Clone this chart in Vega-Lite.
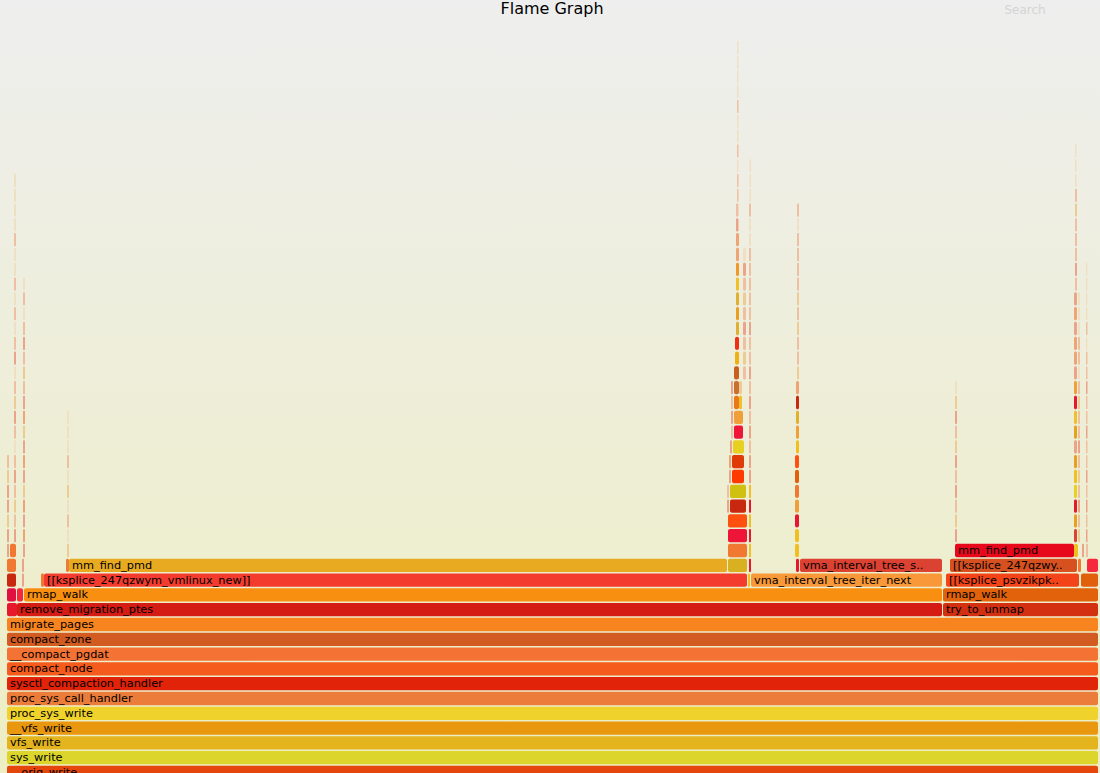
{
  "$schema": "https://vega.github.io/schema/vega-lite/v6.json",
  "width": 1100,
  "height": 773,
  "autosize": {"type": "fit", "contains": "padding"},
  "padding": 0,
  "background": "#eeeeee",
  "config": {"view": {"stroke": null}},
  "datasets": {
    "frames": [
      {"d":0,"a":7,"b":1098,"c":"a0","t":"__orig_write"},
      {"d":1,"a":7,"b":1098,"c":"a1","t":"sys_write"},
      {"d":2,"a":7,"b":1098,"c":"a2","t":"vfs_write"},
      {"d":3,"a":7,"b":1098,"c":"a3","t":"__vfs_write"},
      {"d":4,"a":7,"b":1098,"c":"a4","t":"proc_sys_write"},
      {"d":5,"a":7,"b":1098,"c":"a5","t":"proc_sys_call_handler"},
      {"d":6,"a":7,"b":1098,"c":"a6","t":"sysctl_compaction_handler"},
      {"d":7,"a":7,"b":1098,"c":"a7","t":"compact_node"},
      {"d":8,"a":7,"b":1098,"c":"a8","t":"__compact_pgdat"},
      {"d":9,"a":7,"b":1098,"c":"a9","t":"compact_zone"},
      {"d":10,"a":7,"b":1098,"c":"a10","t":"migrate_pages"},
      {"d":11,"a":7,"b":17,"c":"a32"},
      {"d":11,"a":17,"b":942,"c":"a11","t":"remove_migration_ptes"},
      {"d":11,"a":943,"b":1098,"c":"a12","t":"try_to_unmap"},
      {"d":12,"a":7,"b":16,"c":"a34"},
      {"d":12,"a":17,"b":23,"c":"a35"},
      {"d":12,"a":24,"b":942,"c":"a13","t":"rmap_walk"},
      {"d":12,"a":943,"b":1098,"c":"a14","t":"rmap_walk"},
      {"d":13,"a":7,"b":16,"c":"a26"},
      {"d":13,"a":22,"b":24,"c":"q3"},
      {"d":13,"a":41,"b":44,"c":"a23"},
      {"d":13,"a":44,"b":747,"c":"a15","t":"[[ksplice_247qzwym_vmlinux_new]]"},
      {"d":13,"a":748,"b":750,"c":"a31"},
      {"d":13,"a":751,"b":942,"c":"a16","t":"vma_interval_tree_iter_next"},
      {"d":13,"a":946,"b":1079,"c":"a17","t":"[[ksplice_psvzikpk.."},
      {"d":13,"a":1081,"b":1098,"c":"a33"},
      {"d":14,"a":7,"b":16,"c":"a23"},
      {"d":14,"a":22,"b":24,"c":"q3"},
      {"d":14,"a":66,"b":69,"c":"a5"},
      {"d":14,"a":69,"b":727,"c":"a18","t":"mm_find_pmd"},
      {"d":14,"a":728,"b":747,"c":"a22"},
      {"d":14,"a":749,"b":751,"c":"a32"},
      {"d":14,"a":796,"b":799,"c":"a32"},
      {"d":14,"a":800,"b":942,"c":"a19","t":"vma_interval_tree_s.."},
      {"d":14,"a":950,"b":1077,"c":"a20","t":"[[ksplice_247qzwy.."},
      {"d":14,"a":1078,"b":1081,"c":"a23"},
      {"d":14,"a":1087,"b":1098,"c":"a35"},
      {"d":15,"a":7,"b":9,"c":"q3"},
      {"d":15,"a":10,"b":16,"c":"a23"},
      {"d":15,"a":23,"b":25,"c":"q3"},
      {"d":15,"a":67,"b":69,"c":"q2"},
      {"d":15,"a":728,"b":747,"c":"a23"},
      {"d":15,"a":749,"b":751,"c":"a31"},
      {"d":15,"a":795,"b":799,"c":"a31"},
      {"d":15,"a":955,"b":1074,"c":"a21","t":"mm_find_pmd"},
      {"d":15,"a":1074,"b":1078,"c":"a31"},
      {"d":15,"a":1082,"b":1084,"c":"q3"},
      {"d":15,"a":1086,"b":1088,"c":"q1"},

      {"d":16,"a":728,"b":747,"c":"a24"},
      {"d":17,"a":728,"b":747,"c":"a25"},
      {"d":18,"a":730,"b":746,"c":"a26"},
      {"d":19,"a":730,"b":746,"c":"a27"},
      {"d":20,"a":732,"b":744,"c":"a28"},
      {"d":21,"a":732,"b":744,"c":"a36"},
      {"d":22,"a":733,"b":744,"c":"a29"},
      {"d":23,"a":734,"b":743,"c":"a24"},
      {"d":24,"a":734,"b":743,"c":"a30"},
      {"d":25,"a":734,"b":739,"c":"a37"},
      {"d":25,"a":739,"b":742,"c":"a44"},
      {"d":26,"a":734,"b":739,"c":"a38"},
      {"d":26,"a":739,"b":742,"c":"q2"},
      {"d":27,"a":734,"b":739,"c":"a39"},
      {"d":28,"a":735,"b":739,"c":"a40"},
      {"d":29,"a":735,"b":739,"c":"a41"},
      {"d":30,"a":736,"b":739,"c":"a42"},
      {"d":31,"a":736,"b":739,"c":"a43"},
      {"d":32,"a":736,"b":739,"c":"a42"},
      {"d":33,"a":736,"b":739,"c":"a44"},
      {"d":34,"a":736,"b":739,"c":"a45"},
      {"d":35,"a":736,"b":739,"c":"q5"},
      {"d":36,"a":736,"b":739,"c":"q5"},
      {"d":37,"a":736,"b":738.5,"c":"q3"},
      {"d":38,"a":736,"b":738.5,"c":"q1"},
      {"d":39,"a":737,"b":738.5,"c":"q1"},
      {"d":40,"a":737,"b":738.5,"c":"q1"},
      {"d":41,"a":737,"b":738.5,"c":"q4"},
      {"d":42,"a":737,"b":738.5,"c":"q1"},
      {"d":43,"a":737,"b":738.5,"c":"q4"},
      {"d":44,"a":737,"b":738.5,"c":"q4"},
      {"d":45,"a":737,"b":738.5,"c":"q1"},
      {"d":46,"a":737,"b":738.5,"c":"q4"},
      {"d":47,"a":737,"b":738.5,"c":"q4"},
      {"d":48,"a":737,"b":738.5,"c":"q4"},
      {"d":49,"a":737,"b":738.5,"c":"q4"},

      {"d":27,"a":743,"b":746,"c":"q1"},
      {"d":28,"a":743,"b":746,"c":"q2"},
      {"d":29,"a":743,"b":746,"c":"q1"},
      {"d":30,"a":743,"b":746,"c":"q3"},
      {"d":31,"a":743,"b":746,"c":"q1"},
      {"d":32,"a":743,"b":746,"c":"q2"},
      {"d":33,"a":743,"b":746,"c":"q1"},
      {"d":34,"a":743,"b":746,"c":"q3"},
      {"d":35,"a":743,"b":746,"c":"q4"},

      {"d":18,"a":727,"b":729,"c":"q3"},
      {"d":19,"a":727,"b":729,"c":"q1"},
      {"d":20,"a":729,"b":731,"c":"q3"},
      {"d":21,"a":729,"b":731,"c":"q5"},
      {"d":22,"a":730,"b":732,"c":"q3"},
      {"d":23,"a":731,"b":733,"c":"q1"},
      {"d":24,"a":731,"b":733,"c":"q3"},
      {"d":25,"a":731,"b":733,"c":"q1"},
      {"d":26,"a":731,"b":733,"c":"q3"},

      {"d":16,"a":749,"b":751,"c":"a32"},
      {"d":17,"a":749,"b":751,"c":"a31"},
      {"d":18,"a":749,"b":751,"c":"a32"},
      {"d":19,"a":749,"b":751,"c":"a31"},
      {"d":20,"a":749,"b":751,"c":"q3"},
      {"d":21,"a":749,"b":751,"c":"q3"},
      {"d":22,"a":749,"b":751,"c":"q1"},
      {"d":23,"a":749,"b":751,"c":"q3"},
      {"d":24,"a":749,"b":751,"c":"q1"},
      {"d":25,"a":749,"b":751,"c":"q3"},
      {"d":26,"a":749,"b":751,"c":"q1"},
      {"d":27,"a":749,"b":751,"c":"q3"},
      {"d":28,"a":749,"b":751,"c":"q1"},
      {"d":29,"a":749,"b":751,"c":"q1"},
      {"d":30,"a":749,"b":751,"c":"q3"},
      {"d":31,"a":749,"b":751,"c":"q1"},
      {"d":32,"a":749,"b":751,"c":"q1"},
      {"d":33,"a":749,"b":751,"c":"q1"},
      {"d":34,"a":749,"b":751,"c":"q1"},
      {"d":35,"a":749,"b":751,"c":"q1"},
      {"d":36,"a":749,"b":751,"c":"q4"},
      {"d":37,"a":749,"b":751,"c":"q4"},
      {"d":38,"a":749,"b":751,"c":"q1"},
      {"d":39,"a":749.5,"b":751,"c":"q4"},
      {"d":40,"a":749.5,"b":751,"c":"q4"},
      {"d":41,"a":749.5,"b":751,"c":"q4"},

      {"d":16,"a":795,"b":799,"c":"a31"},
      {"d":17,"a":795,"b":799,"c":"a32"},
      {"d":18,"a":795,"b":799,"c":"a30"},
      {"d":19,"a":795,"b":799,"c":"a23"},
      {"d":20,"a":795,"b":799,"c":"a33"},
      {"d":21,"a":795,"b":799,"c":"a25"},
      {"d":22,"a":796,"b":799,"c":"a31"},
      {"d":23,"a":796,"b":799,"c":"a30"},
      {"d":24,"a":796,"b":799,"c":"a42"},
      {"d":25,"a":796,"b":799,"c":"a26"},
      {"d":26,"a":796,"b":799,"c":"q5"},
      {"d":27,"a":797,"b":799,"c":"q2"},
      {"d":28,"a":797,"b":799,"c":"q1"},
      {"d":29,"a":797,"b":799,"c":"q1"},
      {"d":30,"a":797,"b":799,"c":"q2"},
      {"d":31,"a":797,"b":799,"c":"q1"},
      {"d":32,"a":797,"b":799,"c":"q2"},
      {"d":33,"a":797,"b":799,"c":"q1"},
      {"d":34,"a":797,"b":799,"c":"q1"},
      {"d":35,"a":797,"b":799,"c":"q1"},
      {"d":36,"a":797,"b":799,"c":"q1"},
      {"d":37,"a":797,"b":799,"c":"q4"},
      {"d":38,"a":797,"b":799,"c":"q1"},

      {"d":16,"a":955,"b":957,"c":"q3"},
      {"d":17,"a":955,"b":957,"c":"q2"},
      {"d":18,"a":955,"b":957,"c":"q1"},
      {"d":19,"a":955,"b":957,"c":"q3"},
      {"d":20,"a":955,"b":957,"c":"q1"},
      {"d":21,"a":955,"b":957,"c":"q3"},
      {"d":22,"a":955,"b":957,"c":"q2"},
      {"d":23,"a":955,"b":957,"c":"q1"},
      {"d":24,"a":955,"b":957,"c":"q3"},
      {"d":25,"a":955,"b":957,"c":"q2"},
      {"d":26,"a":955,"b":957,"c":"q4"},

      {"d":16,"a":1074,"b":1077,"c":"a19"},
      {"d":17,"a":1074,"b":1077,"c":"a43"},
      {"d":18,"a":1074,"b":1077,"c":"a32"},
      {"d":19,"a":1074,"b":1077,"c":"a29"},
      {"d":20,"a":1074,"b":1077,"c":"a31"},
      {"d":21,"a":1074,"b":1077,"c":"a43"},
      {"d":22,"a":1074,"b":1077,"c":"q3"},
      {"d":23,"a":1074,"b":1077,"c":"a43"},
      {"d":24,"a":1074,"b":1077,"c":"a44"},
      {"d":25,"a":1074,"b":1077,"c":"a32"},
      {"d":26,"a":1074,"b":1077,"c":"a30"},
      {"d":27,"a":1074,"b":1077,"c":"q3"},
      {"d":28,"a":1074,"b":1077,"c":"q5"},
      {"d":29,"a":1074,"b":1077,"c":"q5"},
      {"d":30,"a":1074,"b":1077,"c":"q3"},
      {"d":31,"a":1074,"b":1077,"c":"q5"},
      {"d":32,"a":1074,"b":1077,"c":"q3"},
      {"d":33,"a":1075,"b":1077,"c":"q1"},
      {"d":34,"a":1075,"b":1077,"c":"q3"},
      {"d":35,"a":1075,"b":1077,"c":"q1"},
      {"d":36,"a":1075,"b":1077,"c":"q1"},
      {"d":37,"a":1075,"b":1077,"c":"q1"},
      {"d":38,"a":1075,"b":1077,"c":"q2"},
      {"d":39,"a":1075,"b":1077,"c":"q1"},
      {"d":40,"a":1075,"b":1076.5,"c":"q4"},
      {"d":41,"a":1075,"b":1076.5,"c":"q4"},
      {"d":42,"a":1075,"b":1076.5,"c":"q4"},

      {"d":16,"a":1078,"b":1080,"c":"q2"},
      {"d":17,"a":1078,"b":1080,"c":"q1"},
      {"d":18,"a":1078,"b":1080,"c":"q3"},
      {"d":19,"a":1078,"b":1080,"c":"q1"},
      {"d":20,"a":1078,"b":1080,"c":"q2"},
      {"d":21,"a":1078,"b":1080,"c":"q1"},
      {"d":22,"a":1078,"b":1080,"c":"q3"},
      {"d":23,"a":1078,"b":1080,"c":"q1"},
      {"d":24,"a":1078,"b":1080,"c":"q1"},
      {"d":25,"a":1078,"b":1080,"c":"q2"},
      {"d":26,"a":1078,"b":1080,"c":"q1"},
      {"d":27,"a":1078,"b":1080,"c":"q4"},
      {"d":28,"a":1078,"b":1080,"c":"q1"},
      {"d":29,"a":1078,"b":1080,"c":"q1"},
      {"d":30,"a":1078,"b":1080,"c":"q4"},
      {"d":31,"a":1078,"b":1080,"c":"q4"},
      {"d":32,"a":1078,"b":1080,"c":"q4"},

      {"d":16,"a":1086,"b":1087.5,"c":"q3"},
      {"d":17,"a":1086,"b":1087.5,"c":"q1"},
      {"d":18,"a":1086,"b":1087.5,"c":"q3"},
      {"d":19,"a":1086,"b":1087.5,"c":"q1"},
      {"d":20,"a":1086,"b":1087.5,"c":"q3"},
      {"d":21,"a":1086,"b":1087.5,"c":"q1"},
      {"d":22,"a":1086,"b":1087.5,"c":"q1"},
      {"d":23,"a":1086,"b":1087.5,"c":"q3"},
      {"d":24,"a":1086,"b":1087.5,"c":"q1"},
      {"d":25,"a":1086,"b":1087.5,"c":"q1"},
      {"d":26,"a":1086,"b":1087.5,"c":"q3"},
      {"d":27,"a":1086,"b":1087.5,"c":"q1"},
      {"d":28,"a":1086,"b":1087.5,"c":"q1"},
      {"d":29,"a":1086,"b":1087.5,"c":"q4"},
      {"d":30,"a":1086,"b":1087.5,"c":"q1"},
      {"d":31,"a":1086,"b":1087.5,"c":"q4"},
      {"d":32,"a":1086,"b":1087.5,"c":"q4"},
      {"d":33,"a":1086,"b":1087.5,"c":"q4"},
      {"d":34,"a":1086,"b":1087.5,"c":"q4"},

      {"d":16,"a":7,"b":9,"c":"q3"},
      {"d":17,"a":7,"b":9,"c":"q2"},
      {"d":18,"a":7,"b":9,"c":"q3"},
      {"d":19,"a":7,"b":9,"c":"q3"},
      {"d":20,"a":7,"b":9,"c":"q2"},
      {"d":21,"a":7,"b":9,"c":"q1"},

      {"d":16,"a":14,"b":16,"c":"q3"},
      {"d":17,"a":14,"b":16,"c":"q1"},
      {"d":18,"a":14,"b":16,"c":"q2"},
      {"d":19,"a":14,"b":16,"c":"q1"},
      {"d":20,"a":14,"b":16,"c":"q3"},
      {"d":21,"a":14,"b":16,"c":"q1"},
      {"d":22,"a":14,"b":16,"c":"q4"},
      {"d":23,"a":14,"b":16,"c":"q1"},
      {"d":24,"a":14,"b":16,"c":"q3"},
      {"d":25,"a":14,"b":16,"c":"q2"},
      {"d":26,"a":14,"b":16,"c":"q1"},
      {"d":27,"a":14,"b":16,"c":"q4"},
      {"d":28,"a":14,"b":16,"c":"q3"},
      {"d":29,"a":14,"b":16,"c":"q1"},
      {"d":30,"a":14,"b":16,"c":"q4"},
      {"d":31,"a":14,"b":16,"c":"q1"},
      {"d":32,"a":14,"b":16,"c":"q4"},
      {"d":33,"a":14,"b":16,"c":"q1"},
      {"d":34,"a":14,"b":16,"c":"q4"},
      {"d":35,"a":14,"b":16,"c":"q4"},
      {"d":36,"a":14,"b":16,"c":"q1"},
      {"d":37,"a":14,"b":16,"c":"q4"},
      {"d":38,"a":14,"b":16,"c":"q4"},
      {"d":39,"a":14,"b":16,"c":"q4"},
      {"d":40,"a":14,"b":16,"c":"q4"},

      {"d":16,"a":23,"b":25,"c":"q5"},
      {"d":17,"a":23,"b":25,"c":"q3"},
      {"d":18,"a":23,"b":25,"c":"q5"},
      {"d":19,"a":23,"b":25,"c":"q2"},
      {"d":20,"a":23,"b":25,"c":"q3"},
      {"d":21,"a":23,"b":25,"c":"q5"},
      {"d":22,"a":23,"b":25,"c":"q3"},
      {"d":23,"a":23,"b":25,"c":"q2"},
      {"d":24,"a":23,"b":25,"c":"q5"},
      {"d":25,"a":23,"b":25,"c":"q3"},
      {"d":26,"a":23,"b":25,"c":"q1"},
      {"d":27,"a":23,"b":25,"c":"q2"},
      {"d":28,"a":23,"b":25,"c":"q1"},
      {"d":29,"a":23,"b":25,"c":"q3"},
      {"d":30,"a":23,"b":25,"c":"q1"},
      {"d":31,"a":23,"b":25,"c":"q4"},
      {"d":32,"a":23,"b":25,"c":"q1"},
      {"d":33,"a":23,"b":25,"c":"q4"},

      {"d":16,"a":67,"b":69,"c":"q4"},
      {"d":17,"a":67,"b":69,"c":"q1"},
      {"d":18,"a":67,"b":69,"c":"q4"},
      {"d":19,"a":67,"b":69,"c":"q2"},
      {"d":20,"a":67,"b":69,"c":"q4"},
      {"d":21,"a":67,"b":69,"c":"q1"},
      {"d":22,"a":67,"b":69,"c":"q4"},
      {"d":23,"a":67,"b":69,"c":"q4"},
      {"d":24,"a":67,"b":69,"c":"q4"}
    ]
  },
  "layer": [
    {
      "data": {"values": [{}]},
      "mark": {
        "type": "rect",
        "clip": true,
        "color": {
          "gradient": "linear", "x1": 0, "y1": 0, "x2": 0, "y2": 1,
          "stops": [{"offset": 0, "color": "#eeeeee"}, {"offset": 1, "color": "#eeeec4"}]
        }
      },
      "encoding": {
        "x": {"datum": 0, "type": "quantitative", "scale": {"domain": [0, 1100], "nice": false, "zero": false, "padding": 0}, "axis": null},
        "x2": {"datum": 1100},
        "y": {"datum": 52.196, "type": "quantitative", "scale": {"domain": [-0.034, 52.196], "nice": false, "zero": false, "padding": 0}, "axis": null},
        "y2": {"datum": -0.034}
      }
    },
    {
      "data": {"name": "frames"},
      "mark": {"type": "bar", "orient": "horizontal", "size": 13.3, "cornerRadius": 2, "clip": true},
      "encoding": {
        "x": {"field": "a", "type": "quantitative"},
        "x2": {"field": "b"},
        "y": {"field": "d", "type": "quantitative"},
        "color": {
          "field": "c", "type": "nominal", "legend": null,
          "scale": {
            "domain": ["a0","a1","a2","a3","a4","a5","a6","a7","a8","a9","a10","a11","a12","a13","a14","a15","a16","a17","a18","a19","a20","a21","a22","a23","a24","a25","a26","a27","a28","a29","a30","a31","a32","a33","a34","a35","a36","a37","a38","a39","a40","a41","a42","a43","a44","a45","q1","q2","q3","q4","q5"],
            "range": ["#e5460c","#dcd52c","#e3b41e","#e9970e","#efd22c","#ec7c3a","#e02309","#f55b1d","#f47334","#d15b21","#f8841f","#d41b14","#d23010","#f98f10","#e2620c","#f33c2e","#f89838","#f24418","#e8aa20","#dc4232","#d65020","#e8081c","#d8b020","#f07830","#ee1538","#ff5010","#c82810","#d0c010","#ff3a00","#e8d020","#f0a038","#f0c020","#e8182c","#e0600c","#e01040","#f5283c","#e03a08","#e87818","#c87030","#c86020","#f0b010","#f03010","#e0b030","#e8a020","#f0c028","#f09828","#efbfa2","#eecb92","#eba38a","#efe0c4","#eea474"]
          }
        }
      }
    },
    {
      "data": {"name": "frames"},
      "transform": [{"filter": "datum.t"}],
      "mark": {"type": "text", "align": "left", "baseline": "middle", "dx": 3, "dy": 0.5, "font": "DejaVu Sans", "fontSize": 11.3, "color": "#000000", "clip": true},
      "encoding": {
        "x": {"field": "a", "type": "quantitative"},
        "y": {"field": "d", "type": "quantitative"},
        "text": {"field": "t"}
      }
    },
    {
      "data": {"values": [{}]},
      "mark": {"type": "text", "text": "Flame Graph", "align": "center", "baseline": "middle", "font": "DejaVu Sans", "fontSize": 16, "color": "#000000", "clip": true},
      "encoding": {
        "x": {"datum": 552, "type": "quantitative"},
        "y": {"datum": 51.6, "type": "quantitative"}
      }
    },
    {
      "data": {"values": [{}]},
      "mark": {"type": "text", "text": "Search", "align": "center", "baseline": "middle", "font": "DejaVu Sans", "fontSize": 12, "color": "#d4d4d4", "clip": true},
      "encoding": {
        "x": {"datum": 1025, "type": "quantitative"},
        "y": {"datum": 51.53, "type": "quantitative"}
      }
    }
  ]
}
